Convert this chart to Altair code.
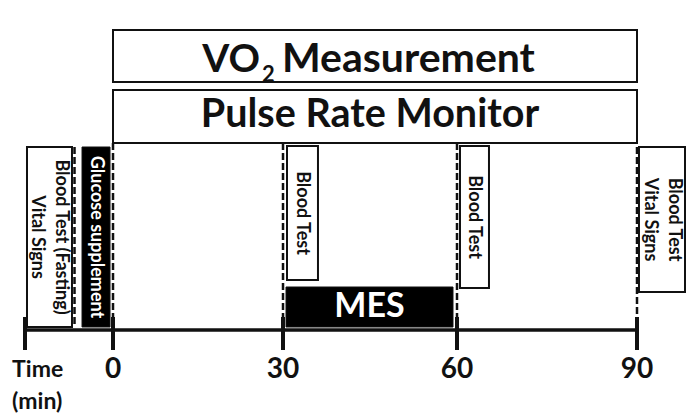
import altair as alt
import pandas as pd

FONT = "Lato"
INK = "#111111"

# Time axis (minutes)
tick_values = [-15, 0, 30, 60, 90]
tick_labels = ["", "0", "30", "60", "90"]
axis_start, axis_end = -15, 90
axis_title = "Time\n(min)"
axis_title_x = -17.2

# Monitoring bars spanning the protocol (y = height above the time axis)
bar_labels = ["VO2 Measurement", "Pulse Rate Monitor"]
bar_start = [0, 0]
bar_end = [90, 90]
bar_bottom = [248, 187]
bar_top = [300, 240]

# Event boxes
event_labels = ["Blood Test (Fasting)\nVital Signs", "Glucose supplement", "Blood Test",
                "MES", "Blood Test", "Blood Test\nVital Signs"]
event_start = [-14.66, -5.28, 30.69, 30.52, 60.5, 90.33]
event_end = [-6.99, -0.51, 36.03, 59.31, 65.33, 98.0]
event_bottom = [3, 3, 50, 3, 42, 38]
event_top = [183, 183, 184, 43, 184, 183]
event_filled = [False, True, False, True, False, False]
event_vertical = [True, True, True, False, True, True]

# Dashed time markers
dash_times = [-6.56, 0, 30, 60, 90]
dash_top = [183, 187, 187, 187, 183]
dash_bottom = [3, 3, 3, 3, 3]

bars = pd.DataFrame({"label": bar_labels, "start": bar_start, "end": bar_end,
                     "bottom": bar_bottom, "top": bar_top})
events = pd.DataFrame({"label": event_labels, "start": event_start, "end": event_end,
                       "bottom": event_bottom, "top": event_top,
                       "filled": event_filled, "vertical": event_vertical})
dashes = pd.DataFrame({"t": dash_times, "top": dash_top, "bottom": dash_bottom})
ticks = pd.DataFrame({"t": tick_values, "label": tick_labels})
axis_df = pd.DataFrame({"start": [axis_start], "end": [axis_end]})
title_df = pd.DataFrame({"t": [axis_title_x], "label": [axis_title]})

H = 406
xs = alt.Scale(domain=[-15, 0, 30, 60, 90], range=[17, 105, 275, 449, 629])
ys = alt.Scale(domain=[322 - H, 322], nice=False, zero=False)


def X(field):
    return alt.X(field, type="quantitative", scale=xs, axis=None)


def Y(field):
    return alt.Y(field, type="quantitative", scale=ys, axis=None)


dash_layer = alt.Chart(dashes).mark_rule(color=INK, strokeWidth=2.5, strokeDash=[7, 3]).encode(
    x=X("t"), y=Y("top"), y2="bottom")

white_boxes = alt.Chart(events).transform_filter("!datum.filled").mark_rect(
    fill="white", stroke=INK, strokeWidth=2).encode(x=X("start"), x2="end", y=Y("bottom"), y2="top")
black_boxes = alt.Chart(events).transform_filter("datum.filled").mark_rect(
    fill="#000000", stroke=INK, strokeWidth=1).encode(x=X("start"), x2="end", y=Y("bottom"), y2="top")
bar_boxes = alt.Chart(bars).mark_rect(fill="white", stroke=INK, strokeWidth=2).encode(
    x=X("start"), x2="end", y=Y("bottom"), y2="top")

axis_line = alt.Chart(axis_df).transform_calculate(z="0").mark_rule(color=INK, strokeWidth=3.5).encode(
    x=X("start"), x2="end", y=Y("z"))
tick_marks = alt.Chart(ticks).transform_calculate(a="13", b="-20").mark_rule(
    color=INK, strokeWidth=4).encode(x=X("t"), y=Y("a"), y2="b")
tick_text = alt.Chart(ticks).transform_calculate(ty="-40").mark_text(
    font=FONT, fontWeight="bold", fontSize=28, color=INK, align="center", baseline="middle").encode(
    x=X("t"), y=Y("ty"), text="label:N")
title_text = alt.Chart(title_df).transform_calculate(ty="-40").mark_text(
    font=FONT, fontWeight="bold", fontSize=23, color=INK, align="left", baseline="middle",
    lineBreak="\n", lineHeight=32).encode(x=X("t"), y=Y("ty"), text="label:N")

centers = dict(xm="(datum.start + datum.end) / 2", ym="(datum.bottom + datum.top) / 2")

rot_single = alt.Chart(events).transform_filter(
    "!datum.filled && datum.vertical && indexof(datum.label, '\\n') < 0").transform_calculate(
    **centers).mark_text(font=FONT, fontWeight="bold", fontSize=18, color=INK, angle=90,
                         align="center", baseline="middle").encode(
    x=X("xm"), y=Y("ym"), text="label:N")
rot_multi = alt.Chart(events).transform_filter(
    "!datum.filled && datum.vertical && indexof(datum.label, '\\n') >= 0").transform_calculate(
    **centers).mark_text(font=FONT, fontWeight="bold", fontSize=18, color=INK, angle=90,
                         align="center", baseline="middle", lineBreak="\n", lineHeight=24,
                         dy=-12).encode(
    x=X("xm"), y=Y("ym"), text="label:N")
rot_white = alt.Chart(events).transform_filter("datum.filled && datum.vertical").transform_calculate(
    **centers).mark_text(font=FONT, fontWeight="bold", fontSize=18, color="white", angle=90,
                         align="center", baseline="middle").encode(
    x=X("xm"), y=Y("ym"), text="label:N")
mes_text = alt.Chart(events).transform_filter("datum.filled && !datum.vertical").transform_calculate(
    **centers).mark_text(font=FONT, fontWeight="bold", fontSize=34, color="white",
                         align="center", baseline="middle").encode(
    x=X("xm"), y=Y("ym"), text="label:N")

vo2 = bars[bars.label.str.startswith("VO2")]
pulse = bars[~bars.label.str.startswith("VO2")]

vo_text = alt.Chart(vo2).transform_calculate(**centers, part="'VO'").mark_text(
    font=FONT, fontWeight="bold", fontSize=39, color=INK, align="right", baseline="alphabetic",
    dx=-110, dy=16).encode(x=X("xm"), y=Y("ym"), text="part:N")
sub_text = alt.Chart(vo2).transform_calculate(**centers, part="'2'").mark_text(
    font=FONT, fontWeight="bold", fontSize=22, color=INK, align="left", baseline="alphabetic",
    dx=-108, dy=26).encode(x=X("xm"), y=Y("ym"), text="part:N")
meas_text = alt.Chart(vo2).transform_calculate(**centers, part="'Measurement'").mark_text(
    font=FONT, fontWeight="bold", fontSize=41, color=INK, align="left", baseline="alphabetic",
    dx=-88, dy=16).encode(x=X("xm"), y=Y("ym"), text="part:N")
pulse_text = alt.Chart(pulse).transform_calculate(**centers).mark_text(
    font=FONT, fontWeight="bold", fontSize=39.5, color=INK, align="center", baseline="alphabetic",
    dy=10.5).encode(x=X("xm"), y=Y("ym"), text="label:N")

chart = alt.layer(
    dash_layer, white_boxes, black_boxes, bar_boxes, axis_line, tick_marks, tick_text, title_text,
    rot_single, rot_multi, rot_white, mes_text, vo_text, sub_text, meas_text, pulse_text
).properties(
    width=682, height=H, autosize=alt.AutoSizeParams(type="none"), padding=0, background="white"
).configure_view(stroke=None)

chart.save("out.html", embed_options={"renderer": "svg", "actions": False})
